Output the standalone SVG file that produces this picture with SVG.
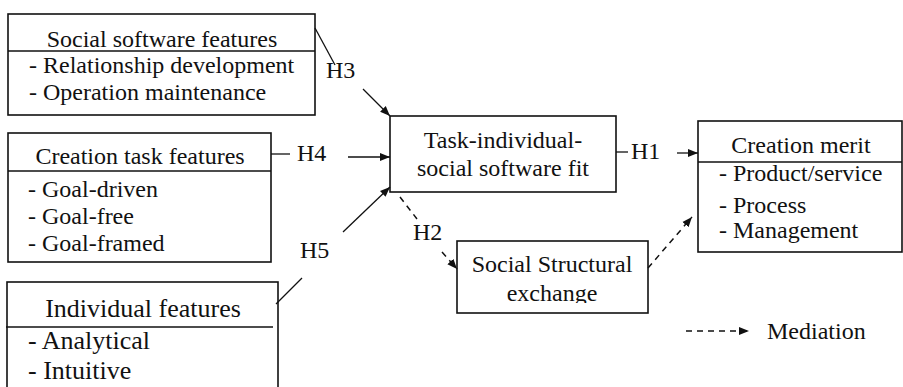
<svg xmlns="http://www.w3.org/2000/svg" width="903" height="387" viewBox="0 0 903 387">
<style>
text{font-family:'Liberation Serif','Times New Roman',serif;font-size:24px;fill:#111}
.big{font-size:26px}
.box{fill:#fff;stroke:#111;stroke-width:1.6}
.div{stroke:#111;stroke-width:1.6}
.ln{stroke:#111;stroke-width:1.3;fill:none}
.dash{stroke:#111;stroke-width:1.5;fill:none;stroke-dasharray:6 5}
.c{text-anchor:middle}
</style>
<defs>
<marker id="ah" viewBox="0 0 10 10" refX="10" refY="5" markerWidth="10" markerHeight="10" markerUnits="userSpaceOnUse" orient="auto">
<path d="M0,1 L10,5 L0,9 Z" fill="#111"/>
</marker>
<clipPath id="clip6"><rect x="457" y="241" width="191" height="62"/></clipPath>
<clipPath id="clip5"><rect x="698" y="121" width="204" height="123"/></clipPath>
</defs>
<rect width="903" height="387" fill="#fff"/>
<g font-family="Liberation Serif, Times New Roman, serif">
<g id="social-software-features">
<rect class="box" x="8" y="14" width="307" height="101"/>
<line class="div" x1="8" y1="51" x2="315" y2="51"/>
<text class="c" x="162" y="47">Social software features</text>
<text x="29" y="73">- Relationship development</text>
<text x="29" y="100">- Operation maintenance</text>
</g>

<g id="creation-task-features">
<rect class="box" x="8" y="133" width="263" height="129"/>
<line class="div" x1="8" y1="171" x2="271" y2="171"/>
<text class="c" x="140" y="164">Creation task features</text>
<text x="28" y="197">- Goal-driven</text>
<text x="28" y="224">- Goal-free</text>
<text x="28" y="251">- Goal-framed</text>
</g>

<g id="individual-features">
<rect class="box" x="7" y="282" width="271" height="120"/>
<line class="div" x1="6" y1="327" x2="273" y2="327"/>
<text class="c big" x="143" y="317">Individual features</text>
<text class="big" x="28" y="349">- Analytical</text>
<text class="big" x="28" y="379">- Intuitive</text>
</g>

<g id="task-individual-fit">
<rect class="box" x="390" y="116" width="226" height="76"/>
<text class="c" x="503" y="148">Task-individual-</text>
<text class="c" x="503" y="176">social software fit</text>
</g>

<g id="social-structural-exchange">
<rect class="box" x="457" y="241" width="191" height="72"/>
<text class="c" x="552" y="272">Social Structural</text>
<text class="c" x="552" y="301" clip-path="url(#clip6)">exchange</text>
</g>

<g id="creation-merit">
<rect class="box" x="698" y="121" width="204" height="131"/>
<line class="div" x1="698" y1="162" x2="902" y2="162"/>
<text class="c" x="801" y="153">Creation merit</text>
<text x="719" y="181">- Product/service</text>
<text x="719" y="213">- Process</text>
<text x="719" y="238" clip-path="url(#clip5)">- Management</text>
</g>

<g id="connectors">
<line class="ln" x1="315" y1="28" x2="335" y2="65"/>
<text x="326" y="78">H3</text>
<line class="ln" x1="363" y1="89" x2="390" y2="116" marker-end="url(#ah)"/>

<line class="ln" x1="271" y1="154" x2="290" y2="154"/>
<text x="297" y="161">H4</text>
<line class="ln" x1="348" y1="157" x2="390" y2="157" marker-end="url(#ah)"/>

<line class="ln" x1="276" y1="304" x2="302" y2="278"/>
<text x="300" y="258">H5</text>
<line class="ln" x1="343" y1="232" x2="390" y2="187" marker-end="url(#ah)"/>

<line class="ln" x1="616" y1="152" x2="628" y2="152"/>
<text x="631" y="159">H1</text>
<line class="ln" x1="677" y1="153" x2="698" y2="153" marker-end="url(#ah)"/>

<line class="dash" x1="400" y1="197" x2="417" y2="219"/>
<text x="413" y="240">H2</text>
<line class="dash" x1="442" y1="252" x2="457" y2="269" marker-end="url(#ah)"/>

<line class="dash" x1="648" y1="268" x2="692" y2="217" marker-end="url(#ah)"/>

<line class="dash" x1="686" y1="331" x2="749" y2="331" marker-end="url(#ah)"/>
<text x="767" y="339">Mediation</text>
</g>
</g>
</svg>
